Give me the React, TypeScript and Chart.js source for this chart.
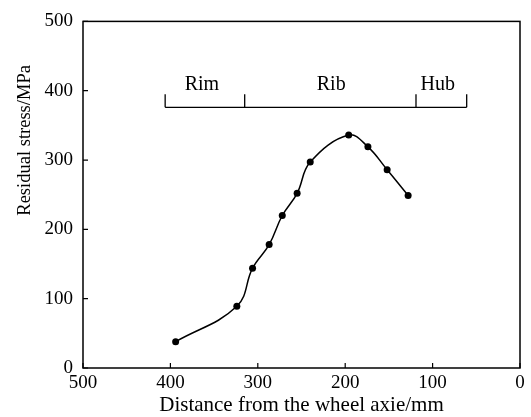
import React, { useEffect, useRef } from 'react';
import { Chart, registerables } from 'chart.js';

Chart.register(...registerables);

const distance = [394, 324, 306, 287, 272, 255, 240, 196, 174, 152, 128];
const stress = [38, 89, 144, 178, 220, 252, 297, 336, 319, 286, 249];
const xTicks = [500, 400, 300, 200, 100, 0];
const yTicks = [0, 100, 200, 300, 400, 500];
const zoneEdges = [406, 315, 119, 61];
const zoneNames = ['Rim', 'Rib', 'Hub'];
const zoneLabelX = [364, 216, 94];
const bracketY = 376;
const bracketTickTop = 395;
const zoneLabelY = 409;
const xTitle = 'Distance from the wheel axie/mm';
const yTitle = 'Residual stress/MPa';

const FONT = '"Liberation Serif", "DejaVu Serif", serif';

const framePlugin = {
  id: 'frame',
  afterDraw(chart: any) {
    const ctx = chart.ctx;
    const { left, right, top, bottom } = chart.chartArea;
    const xs = chart.scales.x;
    const ys = chart.scales.y;
    ctx.save();
    ctx.strokeStyle = '#000';
    ctx.fillStyle = '#000';
    ctx.lineWidth = 1.5;
    ctx.strokeRect(left, top, right - left, bottom - top);
    ctx.lineWidth = 1.2;
    ctx.beginPath();
    xTicks.forEach((v) => {
      const px = xs.getPixelForValue(v);
      ctx.moveTo(px, bottom);
      ctx.lineTo(px, bottom - 5);
    });
    yTicks.forEach((v) => {
      const py = ys.getPixelForValue(v);
      ctx.moveTo(left, py);
      ctx.lineTo(left + 5, py);
    });
    ctx.stroke();

    // bracket
    const y0 = ys.getPixelForValue(bracketY);
    const yt = ys.getPixelForValue(bracketTickTop);
    ctx.lineWidth = 1.3;
    ctx.beginPath();
    ctx.moveTo(xs.getPixelForValue(zoneEdges[0]), y0);
    ctx.lineTo(xs.getPixelForValue(zoneEdges[zoneEdges.length - 1]), y0);
    zoneEdges.forEach((v) => {
      const px = xs.getPixelForValue(v);
      ctx.moveTo(px, y0);
      ctx.lineTo(px, yt);
    });
    ctx.stroke();
    ctx.font = `20px ${FONT}`;
    ctx.textAlign = 'center';
    ctx.textBaseline = 'middle';
    zoneNames.forEach((n, i) => {
      ctx.fillText(n, xs.getPixelForValue(zoneLabelX[i]), ys.getPixelForValue(zoneLabelY));
    });

    // titles
    ctx.font = `21px ${FONT}`;
    ctx.fillText(xTitle, (left + right) / 2, bottom + 37);
    ctx.font = `18.5px ${FONT}`;
    ctx.translate(25, top + 119);
    ctx.rotate(-Math.PI / 2);
    ctx.fillText(yTitle, 0, 0);
    ctx.restore();
  },
};

export default function App() {
  const ref = useRef<HTMLCanvasElement>(null);
  useEffect(() => {
    if (!ref.current) return;
    const chart = new Chart(ref.current, {
      type: 'scatter',
      data: {
        datasets: [
          {
            data: distance.map((d, i) => ({ x: d, y: stress[i] })),
            showLine: true,
            tension: 0.4,
            borderColor: '#000',
            borderWidth: 1.5,
            backgroundColor: '#000',
            pointRadius: 3.5,
            pointBorderWidth: 0,
          },
        ],
      },
      options: {
        animation: false,
        responsive: false,
        maintainAspectRatio: false,
        layout: { padding: { top: 20, right: 11, left: 0, bottom: 0 } },
        plugins: { legend: { display: false }, tooltip: { enabled: false } },
        scales: {
          x: {
            type: 'linear',
            reverse: true,
            min: 0,
            max: 500,
            grid: { display: false, drawTicks: false },
            border: { display: false },
            ticks: {
              stepSize: 100,
              color: '#000',
              padding: 4,
              maxRotation: 0,
              font: { family: FONT, size: 19 },
            },
            afterFit(scale: any) {
              scale.height = 49;
            },
          },
          y: {
            type: 'linear',
            min: 0,
            max: 500,
            grid: { display: false, drawTicks: false },
            border: { display: false },
            ticks: {
              stepSize: 100,
              color: '#000',
              padding: 10,
              font: { family: FONT, size: 19 },
            },
            afterFit(scale: any) {
              scale.width = 83;
            },
          },
        },
      },
      plugins: [framePlugin],
    });
    return () => chart.destroy();
  }, []);
  return (
    <div style={{ position: 'fixed', left: 0, top: 0, width: 531, height: 417, background: '#fff' }}>
      <canvas ref={ref} width={531} height={417} />
    </div>
  );
}
